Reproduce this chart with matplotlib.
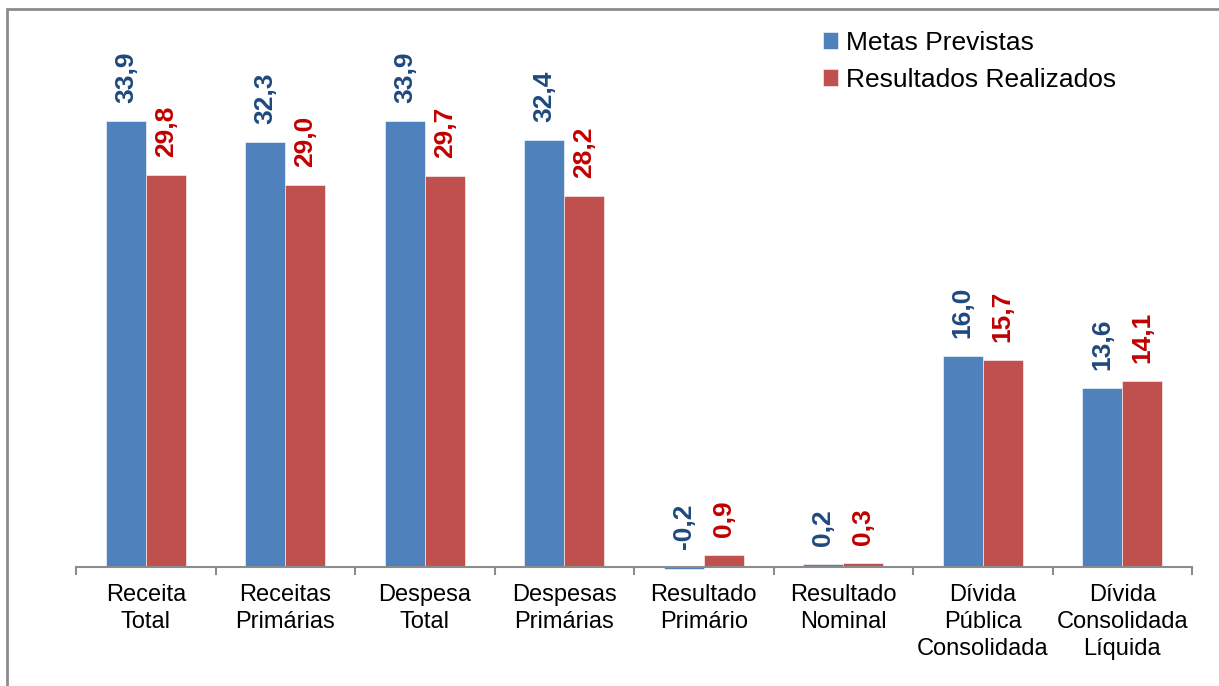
import numpy as np
import matplotlib.pyplot as plt
from matplotlib.patches import Rectangle

plt.rcParams['font.family'] = ['Liberation Sans', 'DejaVu Sans']

categories = ['Receita\nTotal', 'Receitas\nPrimárias', 'Despesa\nTotal', 'Despesas\nPrimárias',
              'Resultado\nPrimário', 'Resultado\nNominal', 'Dívida\nPública\nConsolidada',
              'Dívida\nConsolidada\nLíquida']
metas = [33.9, 32.3, 33.9, 32.4, -0.2, 0.2, 16.0, 13.6]
realizados = [29.8, 29.0, 29.7, 28.2, 0.9, 0.3, 15.7, 14.1]
series_names = ['Metas Previstas', 'Resultados Realizados']

bar_colors = ['#4F81BD', '#C0504D']
label_colors = ['#1F497D', '#C00000']

fig = plt.figure(figsize=(12.19, 6.86), dpi=100)
W, H = 1219, 686

# outer frame
fig.patches.append(Rectangle((7 / W, -0.1), 1.2, (H - 9) / H + 0.1, transform=fig.transFigure,
                             fill=False, edgecolor='#8c8c8c', lw=2.0))

ax = fig.add_axes([76 / W, 1 - 580 / H, (1192 - 76) / W, (580 - 14) / H])
ax.set_ylim(-1, 42)
x = np.arange(len(categories))
ax.set_xlim(-0.5, len(categories) - 0.5)
bw = 0.285

for k, vals in enumerate([metas, realizados]):
    pos = x + (k - 0.5) * bw
    ax.bar(pos, vals, width=bw, color=bar_colors[k], edgecolor='white', lw=0.4,
           label=series_names[k], zorder=2)
    for p, v in zip(pos, vals):
        ax.annotate(f'{v:.1f}'.replace('.', ','), (p, max(v, 0)), xytext=(0, 13),
                    textcoords='offset points', rotation=90, ha='center', va='bottom',
                    fontsize=19, fontweight='bold', color=label_colors[k])

for s in ['top', 'right', 'left']:
    ax.spines[s].set_visible(False)
ax.spines['bottom'].set_position(('data', 0))
ax.spines['bottom'].set_color('#8c8c8c')
ax.spines['bottom'].set_linewidth(1.5)
ax.set_yticks([])

ax.set_xticks(x)
ax.set_xticklabels(categories, fontsize=17, linespacing=1.32)
ax.tick_params(axis='x', which='major', length=0, pad=12)
ax.set_xticks(np.arange(len(categories) + 1) - 0.5, minor=True)
ax.tick_params(axis='x', which='minor', length=6, width=1.5, color='#8c8c8c', direction='out')

ax.legend(loc='upper left', bbox_to_anchor=(812 / W, 1 - 20 / H), bbox_transform=fig.transFigure,
          frameon=False, fontsize=19, handlelength=0.6, handleheight=0.6, handletextpad=0.3,
          labelspacing=0.5, borderaxespad=0)

fig.savefig('out.png', dpi=100)
